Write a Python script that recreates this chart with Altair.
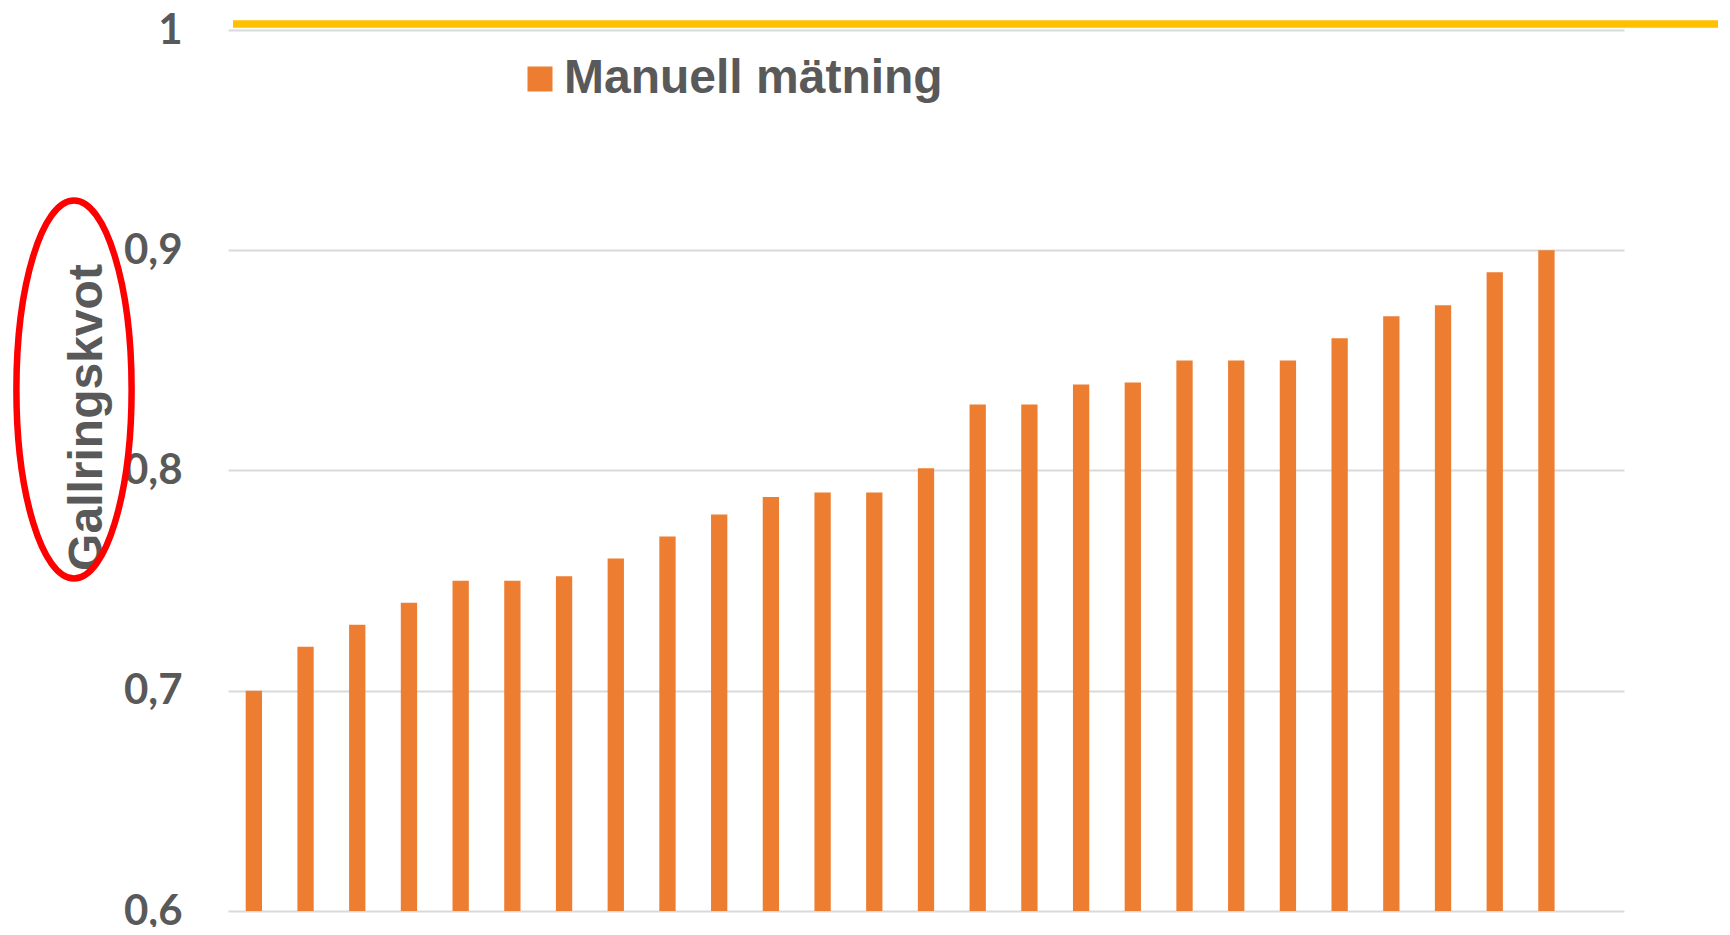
import altair as alt
import pandas as pd

# --- data ---
measurements = [0.70, 0.72, 0.73, 0.74, 0.75, 0.75, 0.752, 0.76, 0.77, 0.78,
                0.788, 0.79, 0.79, 0.801, 0.83, 0.83, 0.839, 0.84, 0.85, 0.85,
                0.85, 0.86, 0.87, 0.875, 0.89, 0.90]
positions = list(range(1, len(measurements) + 1))
series_name = "Manuell mätning"
y_ticks = [0.6, 0.7, 0.8, 0.9, 1.0]
reference_level = [1.0027]
axis_title = "Gallringskvot"

df = pd.DataFrame({"pos": positions, "value": measurements,
                   "serie": [series_name] * len(measurements)})
ref_df = pd.DataFrame({"level": reference_level})
mark_df = pd.DataFrame({"k": [0]})

GREY = "#595959"
yscale = alt.Scale(domain=[0.6, 1.0], zero=False, nice=False)

bars = alt.Chart(df).mark_bar(size=16.3).encode(
    x=alt.X("pos:Q", scale=alt.Scale(domain=[0.5, 27.5], nice=False, zero=False, padding=0),
            axis=None),
    y=alt.Y("value:Q", scale=yscale,
            axis=alt.Axis(values=y_ticks,
                          labelExpr="replace(format(datum.value, '~g'), '.', ',')",
                          labelFont="Lato", labelFontWeight="bold", labelFontSize=42,
                          labelColor=GREY, labelPadding=46, ticks=False, domain=False,
                          grid=True, gridColor="#D9D9D9", gridWidth=1.8,
                          title=axis_title, titleFont="Liberation Sans",
                          titleFontWeight="bold", titleFontSize=48, titleColor=GREY,
                          titleAngle=270, titleAlign="center", titleBaseline="alphabetic",
                          titleX=-127, titleY=387)),
    y2=alt.datum(0.6),
    color=alt.Color("serie:N",
                    scale=alt.Scale(domain=[series_name], range=["#ED7D31"]),
                    legend=alt.Legend(title=None, orient="none", legendX=288, legendY=25,
                                      symbolType="square", symbolSize=625,
                                      symbolStrokeWidth=0, symbolOpacity=1,
                                      labelFont="Liberation Sans", labelFontWeight="bold",
                                      labelFontSize=48, labelColor=GREY, labelOffset=0,
                                      labelLimit=0)),
)

ref_line = alt.Chart(ref_df).mark_rule(color="#FFC000", strokeWidth=7.6).encode(
    y=alt.Y("level:Q", scale=yscale),
    x=alt.value(5),
    x2=alt.value(1494),
)

ellipse_path = ("M 0 -1 C 0.1683 -1 0.3048 -0.5523 0.3048 0 "
                "C 0.3048 0.5523 0.1683 1 0 1 "
                "C -0.1683 1 -0.3048 0.5523 -0.3048 0 "
                "C -0.3048 -0.5523 -0.1683 -1 0 -1 Z")
ellipse = alt.Chart(mark_df).mark_point(
    shape=ellipse_path, size=142884, filled=False, stroke="#FF0000",
    strokeWidth=6.5, opacity=1,
).encode(x=alt.value(-154), y=alt.value(359.5))

chart = alt.layer(bars, ref_line, ellipse).properties(
    width=1396, height=881,
    autosize=alt.AutoSizeParams(type="none"),
    padding={"left": 220, "top": 22, "right": 94, "bottom": 16},
    background="white",
).configure_view(stroke=None)

chart.save("out.html", embed_options={"renderer": "svg", "actions": False})
